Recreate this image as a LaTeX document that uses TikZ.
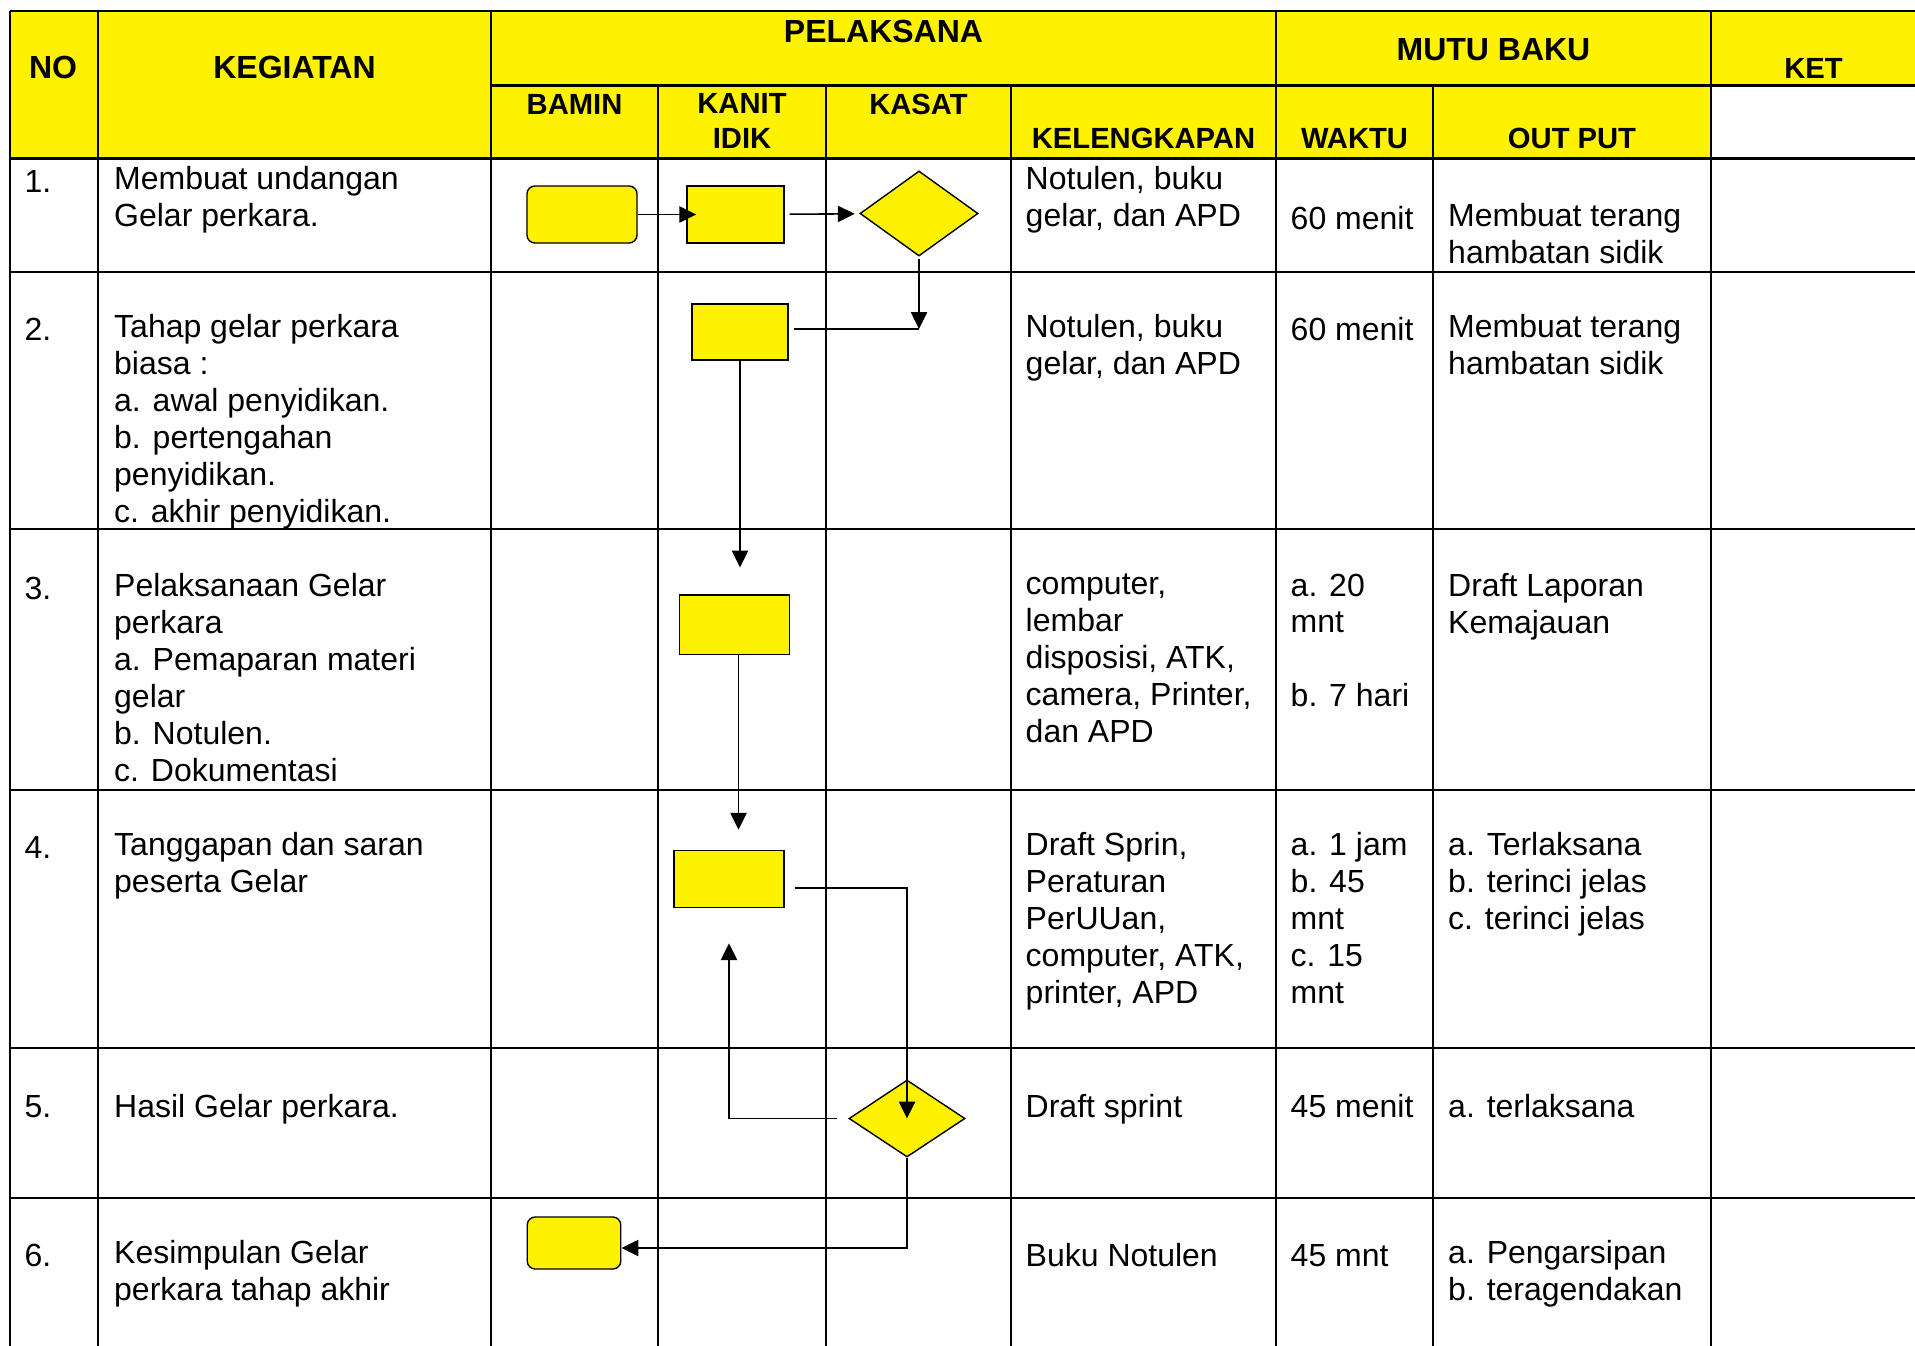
\documentclass[tikz,border=0pt]{standalone}
\usepackage{fontspec}
\setmainfont{Liberation Sans}
\usetikzlibrary{arrows.meta}
\usetikzlibrary{shapes.geometric}
\usetikzlibrary{calc}
\newcommand{\topfont}{\fontsize{9.1}{11}\selectfont\bfseries}
\newcommand{\headfont}{\fontsize{8.3}{10}\selectfont\bfseries}
\newcommand{\cellfont}{\fontsize{9.1}{10.5}\selectfont}

\begin{document}
\begin{tikzpicture}[x=0.01cm,y=-0.01cm,>={Triangle[length=4.8pt,width=4.6pt]},
    grid line/.style={line width=0.6pt},
    head text/.style={font=\headfont,inner sep=0pt,anchor=base,align=center},
    top text/.style={head text,font=\topfont},
    cell text/.style={font=\cellfont,inner sep=0pt,anchor=north west,align=left,
      execute at begin node=\strut},
    task box/.style={rectangle,draw,fill=yellow,line width=0.4pt,inner sep=0pt},
    end box/.style={task box,rounded corners=0.08cm},
    check node/.style={diamond,draw,fill=yellow,line width=0.4pt,inner sep=0pt},
    flow/.style={line width=0.45pt}]
   \useasboundingbox (0,0) rectangle (1915,1346);
   \clip (0,0) rectangle (1915,1346);
   % header background
   \fill[yellow] (10,11) rectangle (1711,158.5);
   \fill[yellow] (1711,11) rectangle (1920,85.5);
   % table rules
   \draw[grid line] (10,11) -- (1920,11);
   \draw[grid line] (491,85.5) -- (1920,85.5);
   \draw[grid line] (10,158.5) -- (1920,158.5);
   \draw[grid line] (10,272) -- (1920,272);
   \draw[grid line] (10,529) -- (1920,529);
   \draw[grid line] (10,790) -- (1920,790);
   \draw[grid line] (10,1048) -- (1920,1048);
   \draw[grid line] (10,1198) -- (1920,1198);
   \draw[grid line] (10,11) -- (10,1400);
   \draw[grid line] (98,11) -- (98,1400);
   \draw[grid line] (491,11) -- (491,1400);
   \draw[grid line] (658,85.5) -- (658,1400);
   \draw[grid line] (826,85.5) -- (826,1400);
   \draw[grid line] (1011,85.5) -- (1011,1400);
   \draw[grid line] (1276,11) -- (1276,1400);
   \draw[grid line] (1433,85.5) -- (1433,1400);
   \draw[grid line] (1711,11) -- (1711,1400);
   \draw[grid line] (1917,11) -- (1917,1400);

   % header
   \node[top text] (hno) at (53,78.5) {NO};
   \node[top text] (hkeg) at (294.5,78.5) {KEGIATAN};
   \node[top text] (hpel) at (883.5,43) {PELAKSANA};
   \node[top text] (hmutu) at (1493.5,61) {MUTU BAKU};
   \node[head text] (hket) at (1813.5,78.5) {KET};
   \node[head text] (hbam) at (574.5,115) {BAMIN};
   \node[head text,anchor=north,execute at begin node=\strut] (hkan) at (742,92.6) {KANIT\\IDIK};
   \node[head text] (hkas) at (918.5,115) {KASAT};
   \node[head text] (hkel) at (1143.5,148.7) {KELENGKAPAN};
   \node[head text] (hwak) at (1354.5,148.7) {WAKTU};
   \node[head text] (hout) at (1572,148.7) {OUT PUT};

   % row 1
   \node[cell text] (no1) at (24,165.7) {1.};
   \node[cell text] (keg1) at (113.5,165.7) {Membuat undangan\\Gelar perkara.};
   \node[cell text] (kel1) at (1025,165.7) {Notulen, buku\\gelar, dan APD};
   \node[cell text] (wak1) at (1290,202.5) {60 menit};
   \node[cell text] (out1) at (1447.5,202.5) {Membuat terang\\hambatan sidik};
   % row 2
   \node[cell text] (no2) at (24,313.5) {2.};
   \node[cell text] (keg2) at (113.5,313.5) {Tahap gelar perkara\\biasa :\\a. awal penyidikan.\\b. pertengahan\\penyidikan.\\c. akhir penyidikan.};
   \node[cell text] (kel2) at (1025,313.5) {Notulen, buku\\gelar, dan APD};
   \node[cell text] (wak2) at (1290,313.5) {60 menit};
   \node[cell text] (out2) at (1447.5,313.5) {Membuat terang\\hambatan sidik};
   % row 3
   \node[cell text] (no3) at (24,573) {3.};
   \node[cell text] (keg3) at (113.5,573) {Pelaksanaan Gelar\\perkara\\a. Pemaparan materi\\gelar\\b. Notulen.\\c. Dokumentasi};
   \node[cell text] (kel3) at (1025,573) {computer,\\lembar\\disposisi, ATK,\\camera, Printer,\\dan APD};
   \node[cell text] (wak3) at (1290,573) {a. 20\\mnt\\\mbox{}\\b. 7 hari};
   \node[cell text] (out3) at (1447.5,573) {Draft Laporan\\Kemajauan};
   % row 4
   \node[cell text] (no4) at (24,832) {4.};
   \node[cell text] (keg4) at (113.5,832) {Tanggapan dan saran\\peserta Gelar};
   \node[cell text] (kel4) at (1025,832) {Draft Sprin,\\Peraturan\\PerUUan,\\computer, ATK,\\printer, APD};
   \node[cell text] (wak4) at (1290,832) {a. 1 jam\\b. 45\\mnt\\c. 15\\mnt};
   \node[cell text] (out4) at (1447.5,832) {a. Terlaksana\\b. terinci jelas\\c. terinci jelas};
   % row 5
   \node[cell text] (no5) at (24,1090.5) {5.};
   \node[cell text] (keg5) at (113.5,1090.5) {Hasil Gelar perkara.};
   \node[cell text] (kel5) at (1025,1090.5) {Draft sprint};
   \node[cell text] (wak5) at (1290,1090.5) {45 menit};
   \node[cell text] (out5) at (1447.5,1090.5) {a. terlaksana};
   % row 6
   \node[cell text] (no6) at (24,1239.5) {6.};
   \node[cell text] (keg6) at (113.5,1239.5) {Kesimpulan Gelar\\perkara tahap akhir};
   \node[cell text] (kel6) at (1025,1239.5) {Buku Notulen};
   \node[cell text] (wak6) at (1290,1239.5) {45 mnt};
   \node[cell text] (out6) at (1447.5,1239.5) {a. Pengarsipan\\b. teragendakan};

   % flow shapes
   \node[end box,minimum width=1.10cm,minimum height=0.57cm] (bam1) at (582,214.5) {};
   \node[task box,minimum width=0.97cm,minimum height=0.57cm] (kan1) at (735.5,214.5) {};
   \node[check node,minimum width=1.18cm,minimum height=0.85cm] (kas1) at (919,213.5) {};
   \node[task box,minimum width=0.96cm,minimum height=0.56cm] (kan2) at (740,332) {};
   \node[task box,minimum width=1.10cm,minimum height=0.59cm] (kan3) at (734.5,624.7) {};
   \node[task box,minimum width=1.10cm,minimum height=0.57cm] (kan4) at (729,879) {};
   \node[check node,minimum width=1.16cm,minimum height=0.77cm] (kas5) at (907,1118.5) {};
   \node[end box,minimum width=0.935cm,minimum height=0.52cm] (bam6) at (574,1243) {};
   \coordinate (j2) at (919,329);

   % connectors
   \path[flow,->] (bam1) edge[shorten >=-0.1cm] (kan1);
   \path[flow,->] (kan1) edge[shorten <=0.05cm,shorten >=0.05cm] (kas1);
   \draw[flow,->,shorten <=0.02cm] (kas1.south) -- (j2);
   \draw[flow,shorten <=0.05cm] (kan2.east |- j2) -- (j2);
   \draw[flow,->,shorten >=0.27cm] (kan2.south) -- (kan2.south |- kan3.north);
   \draw[flow,->,shorten >=0.2cm] ($(kan3.south)+(4,0)$) -- ($(kan3.south |- kan4.north)+(4,0)$);
   \draw[flow,->] ($(kan4.east)+(10,9)$) -| (kas5.center);
   \draw[flow,->,shorten <=0.11cm,shorten >=0.35cm] (kas5.west) -| (kan4.south);
   \draw[flow,->] (kas5.south) |- ($(bam6.east)+(0,5)$);
  \end{tikzpicture}
\end{document}
